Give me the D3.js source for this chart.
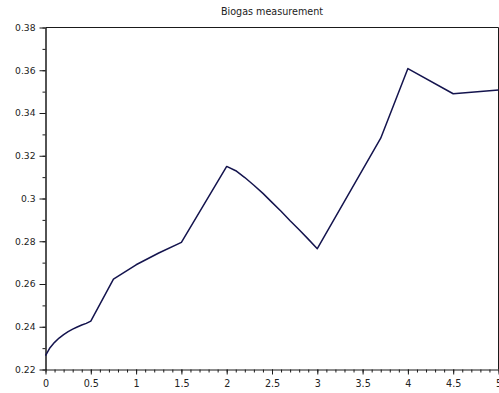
<!DOCTYPE html>
<html>
<head>
<meta charset="utf-8">
<script src="https://cdn.jsdelivr.net/npm/d3@7"></script>
<style>
  html, body { margin: 0; padding: 0; background: #fff; }
  svg { display: block; font-family: "DejaVu Sans", sans-serif; }
</style>
</head>
<body>
<svg id="chart" width="499" height="393"></svg>
<script>
// Biogas measurement readings over time
const timeValues = [0, 0.05, 0.1, 0.15, 0.2, 0.25, 0.3, 0.35, 0.4, 0.45, 0.5,
  0.75, 1.0, 1.25, 1.5, 2.0, 2.1, 2.2, 2.3, 2.4, 2.5, 2.6, 2.7, 2.8, 2.9, 3.0,
  3.7, 4.0, 4.5, 5.0];
const biogasValues = [0.2265, 0.2302, 0.2327, 0.2347, 0.2363, 0.2377, 0.2389, 0.2399, 0.2408, 0.2416, 0.2426,
  0.2623, 0.2690, 0.2745, 0.2795, 0.3150, 0.3130, 0.3098, 0.3062, 0.3024, 0.2982, 0.2940, 0.2896, 0.2854, 0.2810, 0.2765,
  0.3282, 0.3608, 0.3490, 0.3508];
const xTickValues = [0, 0.5, 1, 1.5, 2, 2.5, 3, 3.5, 4, 4.5, 5];
const yTickValues = [0.22, 0.24, 0.26, 0.28, 0.3, 0.32, 0.34, 0.36, 0.38];
const titleText = "Biogas measurement";

const svg = d3.select("#chart");
const margin = { left: 45.5, right: 498.5, top: 27.5, bottom: 369.5 };

const x = d3.scaleLinear().domain([0, 5]).range([margin.left, margin.right]);
const y = d3.scaleLinear().domain([0.22, 0.38]).range([margin.bottom, margin.top]);

const axisColor = "#1a1a1a";
const fmt = d => String(+d.toFixed(2));

// Frame (top and right edges)
svg.append("path")
  .attr("d", `M${margin.left},${margin.top}H${margin.right}V${margin.bottom}`)
  .attr("fill", "none").attr("stroke", axisColor).attr("stroke-width", 1);

// Minor ticks
const xMinor = d3.range(0, 5.0001, 0.1);
const yMinor = d3.range(0.22, 0.38001, 0.01);
const minorX = d3.axisBottom(x).tickValues(xMinor).tickSize(3).tickFormat("");
const minorY = d3.axisLeft(y).tickValues(yMinor).tickSize(3).tickFormat("");

svg.append("g").attr("transform", `translate(0,${margin.bottom})`).call(minorX)
  .call(g => g.select(".domain").remove())
  .selectAll("line").attr("stroke", axisColor);
svg.append("g").attr("transform", `translate(${margin.left},0)`).call(minorY)
  .call(g => g.select(".domain").remove())
  .selectAll("line").attr("stroke", axisColor);

// Major axes
const xAxis = d3.axisBottom(x).tickValues(xTickValues).tickSize(5).tickSizeOuter(0).tickPadding(6).tickFormat(fmt);
const yAxis = d3.axisLeft(y).tickValues(yTickValues).tickSize(6).tickSizeOuter(0).tickPadding(4).tickFormat(fmt);

const gx = svg.append("g").attr("transform", `translate(0,${margin.bottom})`).call(xAxis);
gx.select(".domain").attr("stroke", axisColor).attr("stroke-width", 1.2);
gx.selectAll("line").attr("stroke", axisColor);
gx.selectAll("text").attr("font-size", 9.6).attr("fill", "#222").attr("font-family", "DejaVu Sans");

const gy = svg.append("g").attr("transform", `translate(${margin.left},0)`).call(yAxis);
gy.select(".domain").attr("stroke", axisColor).attr("stroke-width", 1.5);
gy.selectAll("line").attr("stroke", axisColor);
gy.selectAll("text").attr("font-size", 9.2).attr("fill", "#222").attr("font-family", "DejaVu Sans");

// Measurement curve
const line = d3.line().x((d, i) => x(timeValues[i])).y(d => y(d));
svg.append("path")
  .datum(biogasValues)
  .attr("d", line)
  .attr("fill", "none")
  .attr("stroke", "#14144e")
  .attr("stroke-width", 1.5)
  .attr("stroke-linejoin", "round");

// Title
svg.append("text")
  .attr("x", (margin.left + margin.right) / 2)
  .attr("y", 14.5)
  .attr("text-anchor", "middle")
  .attr("font-size", 9.6)
  .attr("fill", "#222")
  .text(titleText);
</script>
</body>
</html>
